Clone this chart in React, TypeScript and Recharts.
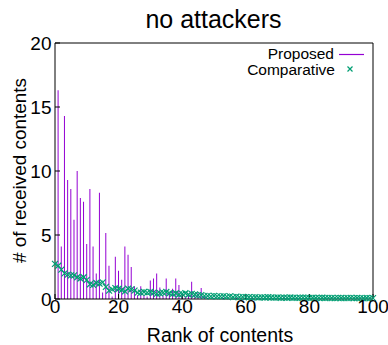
import React from "react";
import { ComposedChart, Bar, Line, XAxis, YAxis, Legend, Label } from "recharts";

// received contents per rank, index = rank (0..100)
const proposed = [
  0, 16.3, 4.1, 14.3, 9.3, 8.6, 6.2, 10.0, 7.9, 7.6,
  4.3, 8.6, 4.1, 2.0, 8.3, 0.5, 5.15, 2.6, 0.2, 3.3,
  2.2, 1.5, 4.1, 3.45, 2.5, 1.0, 0.3, 1.0, 0.3, 0.2,
  1.45, 1.6, 2.0, 0.9, 0.3, 1.6, 0.5, 0.8, 1.6, 1.1,
  0.3, 0.2, 0.3, 1.35, 0.3, 0.5, 0.85, 0.2, 0.1, 0,
  0.1, 0, 0, 0.1, 0, 0, 0, 0.1, 0, 0,
  0, 0, 0.1, 0, 0, 0, 0, 0, 0, 0,
  0, 0, 0.2, 0, 0, 0, 0, 0, 0, 0,
  0, 0, 0, 0, 0, 0, 0, 0, 0, 0,
  0, 0, 0, 0, 0, 0, 0, 0, 0, 0,
  0,
];

const comparative = [
  2.75, 2.6, 2.3, 2.0, 1.9, 1.85, 1.85, 1.7, 1.6, 1.7,
  1.5, 1.15, 1.1, 1.25, 1.2, 1.3, 0.95, 0.65, 0.75, 0.85,
  0.8, 0.7, 0.6, 0.8, 0.75, 0.65, 0.5, 0.5, 0.55, 0.5,
  0.55, 0.5, 0.4, 0.45, 0.5, 0.55, 0.45, 0.4, 0.45, 0.35,
  0.4, 0.45, 0.35, 0.4, 0.35, 0.3, 0.3, 0.25, 0.25, 0.2,
  0.25, 0.2, 0.2, 0.22, 0.18, 0.2, 0.15, 0.18, 0.15, 0.17,
  0.15, 0.14, 0.13, 0.15, 0.12, 0.13, 0.12, 0.14, 0.12, 0.11,
  0.12, 0.1, 0.11, 0.1, 0.12, 0.1, 0.09, 0.1, 0.11, 0.1,
  0.09, 0.1, 0.08, 0.09, 0.1, 0.08, 0.09, 0.08, 0.07, 0.09,
  0.08, 0.07, 0.08, 0.09, 0.07, 0.08, 0.07, 0.06, 0.08, 0.07,
  0.07,
];

const xTicks = [0, 20, 40, 60, 80, 100];
const yTicks = [0, 5, 10, 15, 20];

const rows = proposed.map((p, i) => ({
  rank: i,
  proposed: p,
  comparative: comparative[i],
}));

const FONT = "'Liberation Sans', Arial, Helvetica, sans-serif";
const PURPLE = "#9400d3";
const GREEN = "#009e73";

function Cross(props: any) {
  const { cx, cy, index } = props;
  if (cx == null || cy == null) return <g key={index} />;
  const s = 3;
  return (
    <path
      key={index}
      d={`M${cx - s},${cy - s}L${cx + s},${cy + s}M${cx - s},${cy + s}L${cx + s},${cy - s}`}
      stroke={GREEN}
      strokeWidth={1.2}
      fill="none"
    />
  );
}

function KeyBox() {
  const txt = { fontFamily: FONT, fontSize: 15.5, fill: "#000" };
  return (
    <svg width={388} height={90} style={{ display: "block" }}>
      <text x={334} y={59} textAnchor="end" style={txt}>
        Proposed
      </text>
      <line x1={339} x2={364} y1={54.5} y2={54.5} stroke={PURPLE} strokeWidth={1.2} />
      <text x={335} y={75} textAnchor="end" style={txt}>
        Comparative
      </text>
      <path d="M347.5,66.5L352.5,71.5M347.5,71.5L352.5,66.5" stroke={GREEN} strokeWidth={1.2} />
    </svg>
  );
}

export default function App() {
  const tickStyle = { fill: "#000", fontSize: 19, fontFamily: FONT };
  return (
    <div
      style={{
        position: "absolute",
        left: 0,
        top: 0,
        width: 388,
        height: 345,
        background: "#fff",
        fontFamily: FONT,
      }}
    >
      <div
        style={{
          position: "absolute",
          left: 0,
          top: 7,
          width: 427,
          textAlign: "center",
          fontSize: 25,
          lineHeight: "25px",
          color: "#000",
        }}
      >
        no attackers
      </div>
      <ComposedChart
        width={388}
        height={345}
        data={rows}
        margin={{ top: 42, right: 14, bottom: 16, left: 0 }}
      >
        <XAxis
          dataKey="rank"
          type="number"
          domain={[0, 100]}
          ticks={xTicks}
          interval={0}
          height={30}
          tickSize={-5}
          tickMargin={6}
          tick={tickStyle}
          axisLine={{ stroke: "#000" }}
          tickLine={{ stroke: "#000" }}
        >
          <Label
            content={() => (
              <text
                x={220}
                y={342}
                textAnchor="middle"
                style={{ fontFamily: FONT, fontSize: 19.5, fill: "#000" }}
              >
                Rank of contents
              </text>
            )}
          />
        </XAxis>
        <XAxis
          xAxisId="top"
          dataKey="rank"
          type="number"
          orientation="top"
          domain={[0, 100]}
          ticks={xTicks}
          interval={0}
          height={1}
          tickSize={-5}
          tick={false}
          axisLine={{ stroke: "#000" }}
          tickLine={{ stroke: "#000" }}
        />
        <YAxis
          type="number"
          domain={[0, 20]}
          ticks={yTicks}
          interval={0}
          width={55}
          tickSize={-5}
          tickMargin={8.5}
          tick={tickStyle}
          axisLine={{ stroke: "#000" }}
          tickLine={{ stroke: "#000" }}
        >
          <Label
            content={() => (
              <text
                x={26}
                y={170.5}
                textAnchor="middle"
                textLength={185}
                lengthAdjust="spacingAndGlyphs"
                transform="rotate(-90, 26, 170.5)"
                style={{ fontFamily: FONT, fontSize: 19, fill: "#000" }}
              >
                # of received contents
              </text>
            )}
          />
        </YAxis>
        <YAxis
          yAxisId="right"
          type="number"
          orientation="right"
          domain={[0, 20]}
          ticks={yTicks}
          interval={0}
          width={1}
          tickSize={-5}
          tick={false}
          axisLine={{ stroke: "#000" }}
          tickLine={{ stroke: "#000" }}
        />
        <Legend
          layout="horizontal"
          verticalAlign="middle"
          content={() => <KeyBox />}
          wrapperStyle={{ position: "absolute", left: 0, top: 0, width: 388, height: 90 }}
        />
        <Bar
          dataKey="proposed"
          name="Proposed"
          fill={PURPLE}
          barSize={1}
          isAnimationActive={false}
        />
        <Line
          xAxisId="top"
          yAxisId="right"
          dataKey="comparative"
          name="Comparative"
          stroke="none"
          dot={Cross}
          activeDot={false}
          isAnimationActive={false}
        />
      </ComposedChart>
    </div>
  );
}
